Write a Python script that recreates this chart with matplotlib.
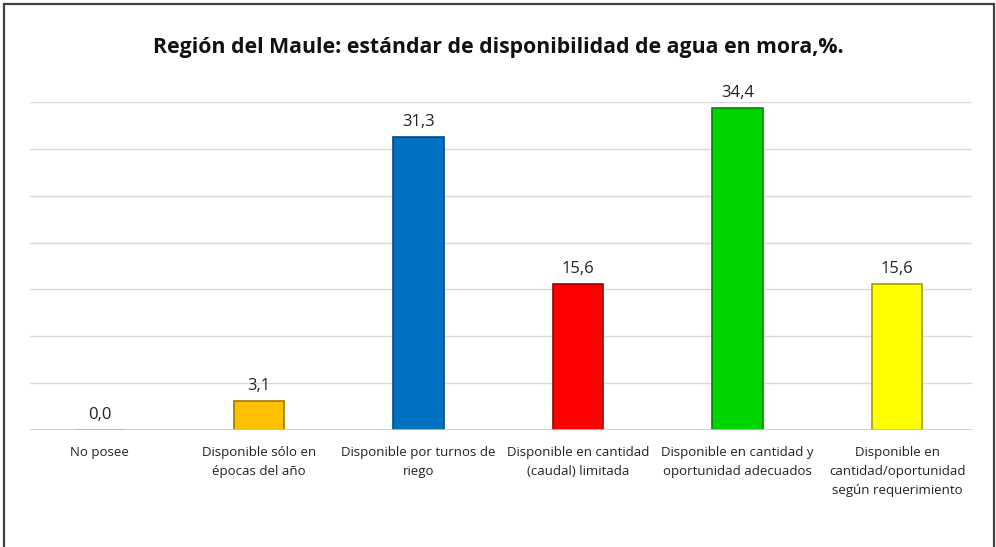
import matplotlib
matplotlib.use("Agg")
import matplotlib.pyplot as plt
from matplotlib.patches import Rectangle

categories = [
    "No posee",
    "Disponible sólo en\népocas del año",
    "Disponible por turnos de\nriego",
    "Disponible en cantidad\n(caudal) limitada",
    "Disponible en cantidad y\noportunidad adecuados",
    "Disponible en\ncantidad/oportunidad\nsegún requerimiento",
]
values = [0.0, 3.1, 31.3, 15.6, 34.4, 15.6]
value_labels = ["0,0", "3,1", "31,3", "15,6", "34,4", "15,6"]
colors = ["#FFC000", "#FFC000", "#0070C0", "#FF0000", "#00D400", "#FFFF00"]
edges = ["#A07800", "#A07800", "#004C85", "#A00000", "#008A00", "#A0A000"]
title = "Región del Maule: estándar de disponibilidad de agua en mora,%."

W, H = 996, 547
fig = plt.figure(figsize=(W / 100, H / 100), dpi=100)
fig.patch.set_facecolor("white")

# outer frame
fig.patches.append(Rectangle((4 / W, -0.02), 990 / W, 1 - 4 / H + 0.02,
                             transform=fig.transFigure, fill=False,
                             edgecolor="#404040", linewidth=1.6))

ax = fig.add_axes([30 / W, (H - 430) / H, 942 / W, 328 / H])
x = list(range(len(categories)))
ax.bar(x, values, width=0.315, color=colors, edgecolor=edges, linewidth=1.2, zorder=3)
ax.set_xlim(-0.436, 5.47)
ax.set_ylim(0, 35)
ax.set_yticks([5, 10, 15, 20, 25, 30, 35])
ax.yaxis.grid(True, color="#D9D9D9", linewidth=1.0, zorder=0)
ax.axhline(0, color="#C8C8C8", linewidth=1.2, zorder=4)
for s in ax.spines.values():
    s.set_visible(False)
ax.tick_params(axis="y", left=False, labelleft=False)
ax.tick_params(axis="x", bottom=False, pad=8)
ax.set_xticks(x)
ax.set_xticklabels(categories, fontsize=9.5, color="#222222", linespacing=1.6,
                   family="Open Sans", va="top")

for xi, v, lab in zip(x, values, value_labels):
    ax.annotate(lab, (xi, v), xytext=(0, 5), textcoords="offset points",
                ha="center", va="bottom", fontsize=12, color="#222222",
                family="Open Sans")

fig.text(0.5, (H - 47) / H, title, ha="center", va="center", fontsize=15.3,
         fontweight="bold", family="Open Sans", color="#111111")

fig.savefig("out.png", dpi=100)
